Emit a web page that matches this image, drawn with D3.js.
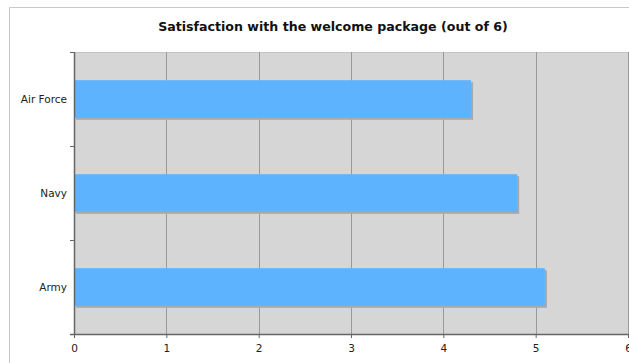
<!DOCTYPE html>
<html>
<head>
<meta charset="utf-8">
<script src="https://cdn.jsdelivr.net/npm/d3@7"></script>
<style>
  html, body { margin: 0; padding: 0; background: #fff; }
  svg { display: block; }
</style>
</head>
<body>
<svg id="chart" width="629" height="363"></svg>
<script>
// Average satisfaction scores per branch (scale 0–6)
const categories = ["Air Force", "Navy", "Army"];
const scores = [4.3, 4.8, 5.1];
const xTicks = [0, 1, 2, 3, 4, 5, 6];
const title = "Satisfaction with the welcome package (out of 6)";

const svg = d3.select("#chart");
const W = 629, H = 363;
const plot = { left: 74, right: 628, top: 52, bottom: 334 };
const font = "DejaVu Sans, Verdana, sans-serif";

// Outer chart frame
svg.append("rect")
  .attr("x", 9.5).attr("y", 7.5)
  .attr("width", W + 20).attr("height", H + 20)
  .attr("fill", "#fff").attr("stroke", "#c8c8c8");

svg.append("text")
  .attr("x", 333).attr("y", 31)
  .attr("text-anchor", "middle")
  .attr("font-family", font)
  .attr("font-weight", "bold")
  .attr("font-size", 12.6)
  .attr("fill", "#111")
  .text(title);

const x = d3.scaleLinear().domain([0, 6]).range([plot.left, plot.right]);
const y = d3.scaleBand().domain(categories).range([plot.top, plot.bottom]).paddingInner(0.6).paddingOuter(0.3);
const yBand = d3.scaleBand().domain(categories).range([plot.top, plot.bottom]);

// Plot background
svg.append("rect")
  .attr("x", plot.left).attr("y", plot.top)
  .attr("width", plot.right - plot.left).attr("height", plot.bottom - plot.top)
  .attr("fill", "#d6d6d6");
svg.append("line")
  .attr("x1", plot.left).attr("x2", plot.right)
  .attr("y1", plot.top + 0.5).attr("y2", plot.top + 0.5)
  .attr("stroke", "#c4c4c4");

// Vertical gridlines
svg.append("g").selectAll("line")
  .data(xTicks.slice(1))
  .join("line")
  .attr("x1", d => Math.round(x(d)) + 0.5).attr("x2", d => Math.round(x(d)) + 0.5)
  .attr("y1", plot.top).attr("y2", plot.bottom)
  .attr("stroke", "#999");

// Bars with soft drop shadow
const bars = svg.append("g");
bars.selectAll("rect.shadow")
  .data(categories)
  .join("rect")
  .attr("class", "shadow")
  .attr("x", x(0) + 2)
  .attr("y", (d) => y(d) + 2)
  .attr("width", (d, i) => x(scores[i]) - x(0))
  .attr("height", y.bandwidth())
  .attr("fill", "#a9a9a9");
bars.selectAll("rect.bar")
  .data(categories)
  .join("rect")
  .attr("class", "bar")
  .attr("x", x(0))
  .attr("y", d => y(d))
  .attr("width", (d, i) => x(scores[i]) - x(0))
  .attr("height", y.bandwidth())
  .attr("fill", "#5eb3ff");

// Bottom axis
const xAxis = svg.append("g")
  .attr("transform", `translate(0,${plot.bottom})`)
  .call(d3.axisBottom(x).tickValues(xTicks).tickSize(4).tickFormat(d3.format("d")));
xAxis.select(".domain").attr("stroke", "#666").attr("stroke-width", 1.5).attr("d", `M${plot.left - 4},0.5H${plot.right}`);
xAxis.selectAll(".tick line").attr("stroke", "#666");
xAxis.selectAll(".tick text")
  .attr("font-family", font)
  .attr("font-size", 10.5).attr("fill", "#222").attr("dy", "1.05em");

// Left axis: category labels centred in bands, ticks at band boundaries
const leftAxis = svg.append("g");
leftAxis.append("line")
  .attr("x1", plot.left + 0.5).attr("x2", plot.left + 0.5)
  .attr("y1", plot.top).attr("y2", plot.bottom)
  .attr("stroke", "#666").attr("stroke-width", 1.5);
const bounds = categories.map(c => yBand(c)).concat([plot.bottom]);
leftAxis.selectAll("line.tk")
  .data(bounds)
  .join("line")
  .attr("class", "tk")
  .attr("x1", plot.left - 4).attr("x2", plot.left)
  .attr("y1", d => Math.round(d) + 0.5).attr("y2", d => Math.round(d) + 0.5)
  .attr("stroke", "#666");
leftAxis.selectAll("text")
  .data(categories)
  .join("text")
  .attr("x", plot.left - 7)
  .attr("y", d => y(d) + y.bandwidth() / 2)
  .attr("dy", "0.35em")
  .attr("text-anchor", "end")
  .attr("font-family", font)
  .attr("font-size", 10.5)
  .attr("fill", "#222")
  .text(d => d);
</script>
</body>
</html>
